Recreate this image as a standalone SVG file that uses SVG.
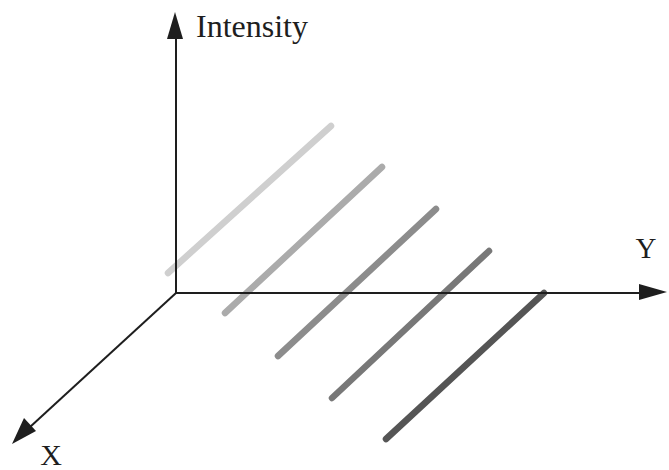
<svg xmlns="http://www.w3.org/2000/svg" width="669" height="470" viewBox="0 0 669 470">
<defs>
<style>
.axis{stroke:#1e1e1e;stroke-width:2;fill:none}
.head{fill:#1e1e1e}
.lbl{font-family:"Liberation Serif",serif;fill:#1e1e1e}
.bar{stroke-width:6.5;stroke-linecap:round;fill:none}
</style>
</defs>
<rect width="669" height="470" fill="#fff"/>
<g id="lines">
<line id="l1" class="bar" x1="168" y1="273" x2="331" y2="126" stroke="#cfcfcf"/>
<line id="l2" class="bar" x1="225" y1="313" x2="382" y2="167" stroke="#ababab"/>
<line id="l3" class="bar" x1="278" y1="356" x2="436" y2="209" stroke="#8c8c8c"/>
<line id="l4" class="bar" x1="332" y1="398" x2="489" y2="251" stroke="#787878"/>
<line id="l5" class="bar" x1="386" y1="439" x2="544" y2="293" stroke="#555"/>
</g>
<g id="axes">
<line class="axis" x1="176" y1="294" x2="176" y2="36"/>
<polygon class="head" points="175,12 167,39 183,39"/>
<line class="axis" x1="175" y1="293" x2="642" y2="293"/>
<polygon class="head" points="667,292 639,284 639,300"/>
<line class="axis" x1="176" y1="293" x2="30" y2="427"/>
<polygon class="head" points="12,444 24,418 36,431"/>
</g>
<g id="labels">
<text class="lbl" x="196" y="37" font-size="32">Intensity</text>
<text class="lbl" x="646" y="258" font-size="29" text-anchor="middle">Y</text>
<text class="lbl" x="51" y="465" font-size="30" text-anchor="middle">X</text>
</g>
</svg>
